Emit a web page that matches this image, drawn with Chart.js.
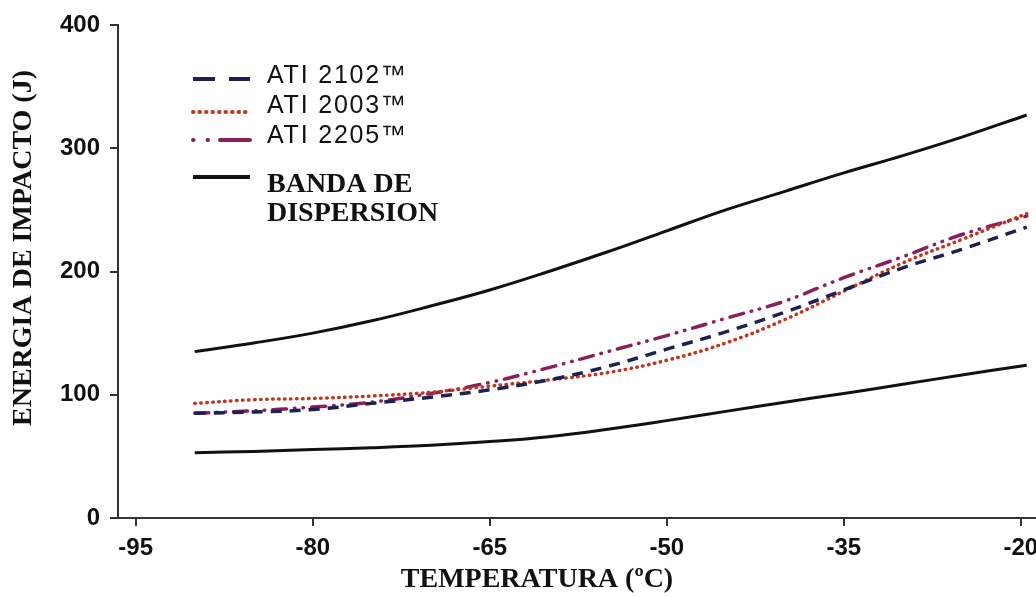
<!DOCTYPE html>
<html>
<head>
<meta charset="utf-8">
<title>Energia de impacto</title>
<script src="https://cdn.jsdelivr.net/npm/chart.js@4.4.1/dist/chart.umd.min.js"></script>
<style>
  html, body { margin: 0; padding: 0; background: #fff; }
  #wrap { width: 1036px; height: 597px; }
</style>
</head>
<body>
<div id="wrap"><canvas id="impactChart" width="1036" height="597"></canvas></div>
<script>
// temperatura (°C) de cada punto de las curvas
const temps = [-90, -85, -80, -75, -70, -65, -60, -55, -50, -45, -40, -35, -30, -25, -19.5];

// energia de impacto (J)
const ati2102 = [85, 86, 88, 93, 98, 104, 112, 123, 137, 151, 167, 185, 203, 218, 236];
const ati2003 = [93, 96, 97, 99, 102, 107, 112, 118, 128, 142, 161, 184, 207, 226, 247];
const ati2205 = [85, 87, 90, 94, 101, 110, 122, 135, 148, 162, 176, 195, 212, 230, 245];
const bandaSup = [135, 142, 150, 160, 172, 185, 200, 216, 233, 250, 265, 280, 294, 309, 327];
const bandaInf = [53, 54, 55.5, 57, 59, 62, 66, 72, 79, 86.5, 94, 101, 108.5, 116, 124];

const xTicks = [-95, -80, -65, -50, -35, -20];
const yTicks = [0, 100, 200, 300, 400];

const serieNames = ["ATI 2102™", "ATI 2003™", "ATI 2205™", "BANDA DE DISPERSION"];

function pts(vals) {
  return temps.map((t, i) => ({ x: t, y: vals[i] }));
}

const axisColor = "#333";

// leyenda dibujada a mano (muestras de linea + texto)
const legendPlugin = {
  id: "manualLegend",
  afterDraw(chart) {
    const ctx = chart.ctx;
    const items = [
      { ds: 0, y: 79, dash: [22, 14], text: serieNames[0], ty: 83 },
      { ds: 1, y: 112, dash: [0.5, 6], text: serieNames[1], ty: 113 },
      { ds: 2, y: 140, dash: [0.5, 14, 0.5, 12, 30], text: serieNames[2], ty: 143 },
      { ds: 3, y: 177, dash: [], text: null, ty: 0 }
    ];
    ctx.save();
    items.forEach(it => {
      const d = chart.data.datasets[it.ds];
      ctx.strokeStyle = d.borderColor;
      ctx.lineWidth = 4;
      ctx.lineCap = d.borderCapStyle || "butt";
      ctx.setLineDash(it.dash);
      ctx.beginPath();
      ctx.moveTo(193, it.y);
      ctx.lineTo(250, it.y);
      ctx.stroke();
      if (it.text) {
        ctx.setLineDash([]);
        ctx.fillStyle = "#111";
        ctx.font = "25px 'Liberation Sans', Arial, sans-serif";
        ctx.letterSpacing = "1.8px";
        ctx.textBaseline = "alphabetic";
        ctx.fillText(it.text, 267, it.ty);
      }
    });
    ctx.letterSpacing = "0px";
    ctx.font = "bold 28px 'Liberation Serif', 'Times New Roman', serif";
    ctx.fillStyle = "#111";
    ctx.fillText("BANDA DE", 267, 192);
    ctx.fillText("DISPERSION", 267, 221);
    ctx.restore();
  }
};

// titulos de los ejes
const axisTitles = {
  id: "axisTitles",
  afterDraw(chart) {
    const ctx = chart.ctx;
    ctx.save();
    ctx.fillStyle = "#111";
    ctx.font = "bold 28px 'Liberation Serif', 'Times New Roman', serif";
    ctx.textAlign = "center";
    ctx.textBaseline = "middle";
    ctx.fillText("TEMPERATURA (ºC)", 537, 580);
    ctx.translate(24, 248);
    ctx.rotate(-Math.PI / 2);
    ctx.fillText("ENERGIA DE IMPACTO (J)", 0, 0);
    ctx.restore();
  }
};

const ctx = document.getElementById("impactChart").getContext("2d");

new Chart(ctx, {
  type: "line",
  data: {
    datasets: [
      {
        label: serieNames[0],
        data: pts(ati2102),
        borderColor: "#1b2150",
        borderWidth: 3.5,
        borderDash: [11, 8]
      },
      {
        label: serieNames[1],
        data: pts(ati2003),
        borderColor: "#c4341c",
        borderWidth: 3.5,
        borderDash: [0.5, 5.5],
        borderCapStyle: "round"
      },
      {
        label: serieNames[2],
        data: pts(ati2205),
        borderColor: "#8b1f5b",
        borderWidth: 3.5,
        borderDash: [14, 8, 0.5, 8, 0.5, 8],
        borderCapStyle: "round"
      },
      {
        label: serieNames[3],
        data: pts(bandaSup),
        borderColor: "#111",
        borderWidth: 3
      },
      {
        label: serieNames[3],
        data: pts(bandaInf),
        borderColor: "#111",
        borderWidth: 3
      }
    ]
  },
  options: {
    responsive: false,
    animation: false,
    devicePixelRatio: 1,
    tension: 0.4,
    pointRadius: 0,
    layout: { padding: { top: 25, right: 1, left: 0, bottom: 0 } },
    plugins: {
      legend: { display: false },
      tooltip: { enabled: false }
    },
    scales: {
      x: {
        type: "linear",
        min: -96.5,
        max: -18.8,
        afterBuildTicks: s => { s.ticks = xTicks.map(v => ({ value: v })); },
        afterFit: s => { s.height = 79; s.paddingLeft = 0; s.paddingRight = 0; },
        border: { color: axisColor, width: 2 },
        grid: { drawOnChartArea: false, tickLength: 8, color: axisColor, lineWidth: 2 },
        ticks: {
          padding: 8,
          color: "#111",
          font: { family: "'Liberation Sans Narrow', 'Liberation Sans', Arial", size: 24, weight: "bold" },
          callback: v => String(v)
        }
      },
      y: {
        min: 0,
        max: 400,
        afterBuildTicks: s => { s.ticks = yTicks.map(v => ({ value: v })); },
        afterFit: s => { s.width = 118; s.paddingTop = 0; s.paddingBottom = 0; },
        border: { color: axisColor, width: 2 },
        grid: { drawOnChartArea: false, tickLength: 8, color: axisColor, lineWidth: 2 },
        ticks: {
          padding: 10,
          color: "#111",
          font: { family: "'Liberation Sans', Arial", size: 24, weight: "bold" },
          callback: v => String(v)
        }
      }
    }
  },
  plugins: [legendPlugin, axisTitles]
});
</script>
</body>
</html>
